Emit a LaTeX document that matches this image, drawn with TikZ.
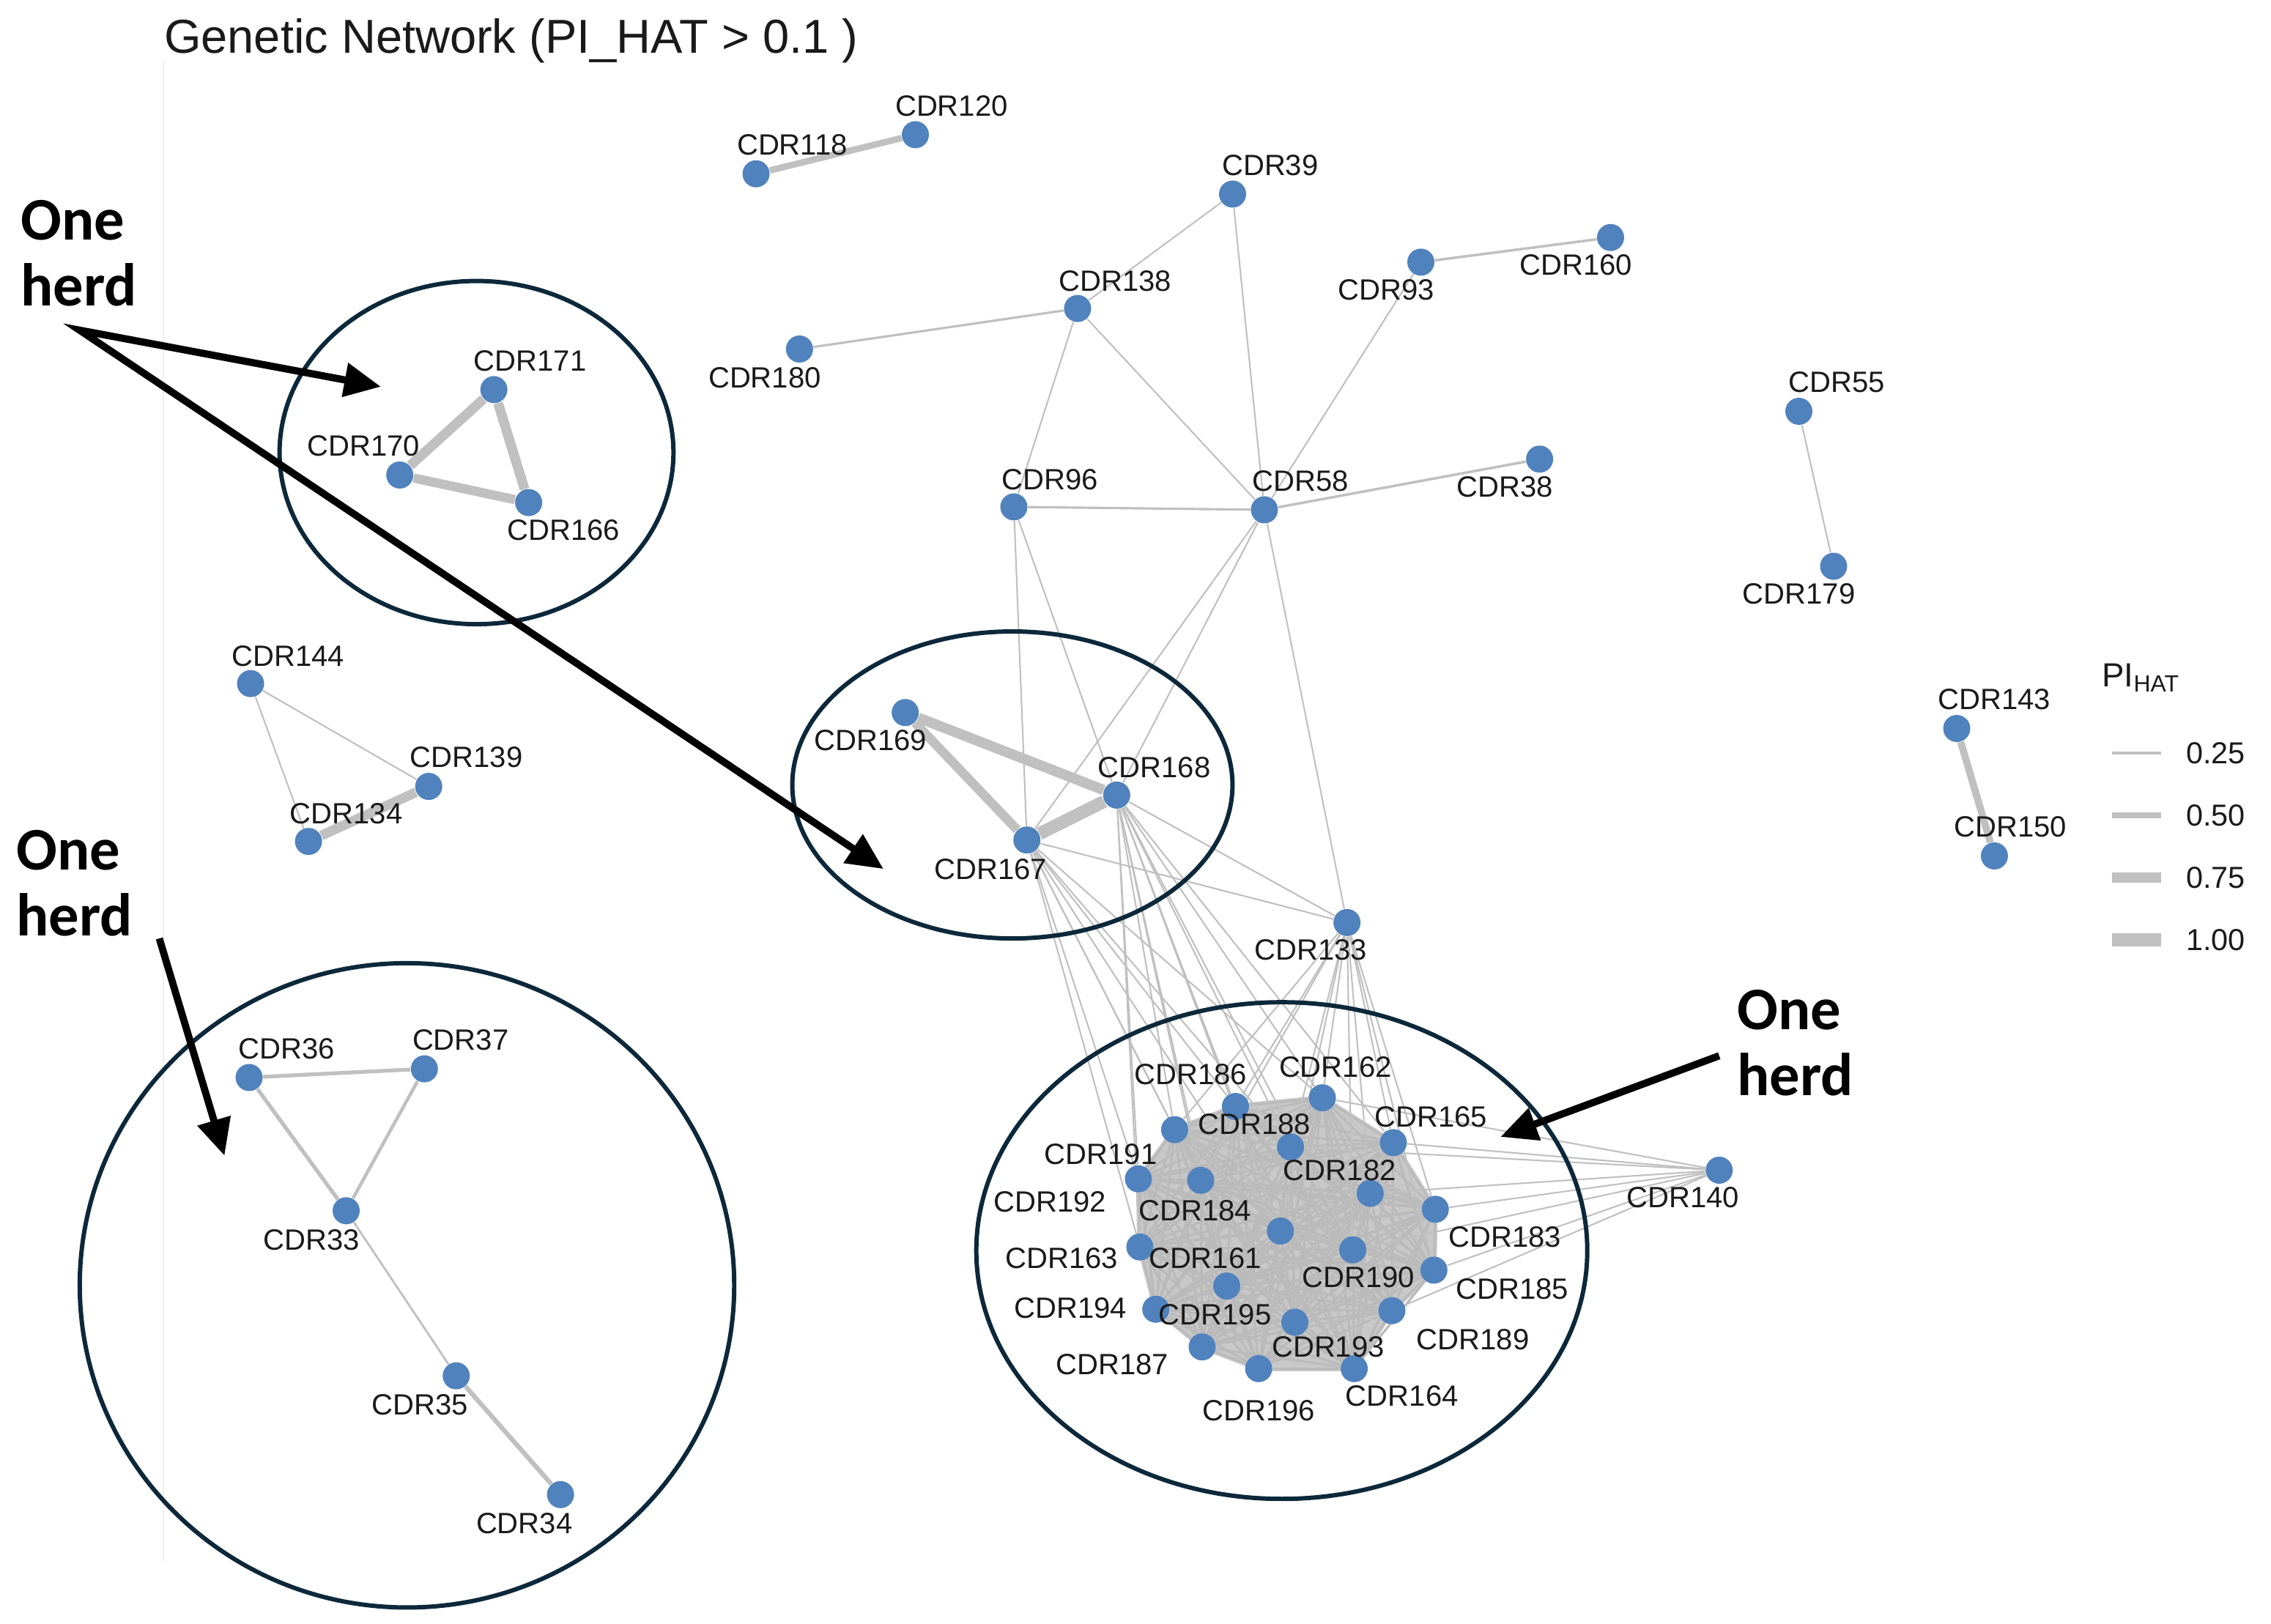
\documentclass[tikz,border=0pt]{standalone}
\usepackage{fontspec}
\setmainfont{Liberation Sans}
\newfontfamily\herdfont{Carlito}
\usetikzlibrary{arrows.meta,backgrounds}
\definecolor{nodeblue}{RGB}{80,130,189}
\definecolor{edgegray}{RGB}{192,192,192}
\definecolor{blobgray}{RGB}{200,200,200}
\definecolor{herdnavy}{RGB}{12,40,58}
\definecolor{txt}{RGB}{26,26,26}
\begin{document}
\begin{tikzpicture}[x=0.01977cm,y=-0.01977cm,
 dot/.style={circle,fill=nodeblue,inner sep=0pt,minimum size=0.37cm},
 lbl/.style={text=txt,inner sep=0pt,font=\fontsize{11.4}{13}\selectfont},
 ed/.style={draw=edgegray,line width=#1},
 ed/.default=0.6pt,
 herdring/.style={draw=herdnavy,line width=1.7pt},
 pointer/.style={draw=black,line width=2.8pt,-{Triangle[length=0.5cm,width=0.45cm]}},
 pointertwo/.style={draw=black,line width=2.8pt,{Triangle[length=0.5cm,width=0.45cm]}-{Triangle[length=0.5cm,width=0.45cm]}},
 herdtext/.style={font=\herdfont\bfseries\fontsize{23.5}{25.5}\selectfont,align=left,inner sep=0pt,anchor=west,text=black},
 legtext/.style={text=txt,inner sep=0pt,anchor=west,font=\fontsize{11.8}{13}\selectfont}
 ]
\useasboundingbox (0,0) rectangle (1568,1121);

% ---------- nodes ----------
\foreach \n/\x/\y in {118/522/120,120/632/93,39/851/134,93/981/181,160/1112/164,138/744/213,180/552/241,
  171/341/269,170/276/328,166/365/347,55/1242/284,179/1266/391,96/700/350,58/873/352,38/1063/317,
  144/173/472,139/296/543,134/213/581,143/1351/503,150/1377/591,169/625/492,168/771/549,167/709/580,
  133/930/637,140/1187/808,36/172/744,37/293/738,33/239/836,35/315/950,34/387/1032,
  162/913/758,186/853/764,188/811/780,182/891/792,165/962/789,191/786/814,184/829/815,192/946/824,
  183/991/835,161/884/850,190/934/863,163/787/861,185/990/877,195/847/888,194/798/904,189/961/905,
  193/894/913,187/830/930,196/869/945,164/935/945}
  {\node[dot] (n\n) at (\x,\y) {};}

% ---------- labels ----------
\foreach \n/\x/\y in {120/657/73,118/547/100,39/877/114,93/957/200,160/1088/183,138/770/194,180/528/261,
  171/366/249,170/251/308,166/389/366,55/1268/264,179/1242/410,96/725/331,58/898/332,38/1039/336,
  144/199/453,139/322/523,134/239/562,143/1377/483,150/1388/571,169/601/511,168/797/530,167/684/600,
  133/905/656,140/1162/827,36/198/724,37/318/718,33/215/856,35/290/970,34/362/1052,
  186/822/742,162/922/737,188/866/776,165/988/771,191/760/797,182/925/808,192/725/830,184/825/836,
  183/1039/854,163/733/869,161/832/869,190/938/882,185/1044/890,194/739/903,195/839/908,
  189/1017/925,193/917/930,187/768/942,196/869/974,164/968/964}
  {\node[lbl] (l\n) at (\x,\y) {CDR\n};}

% ---------- edges (behind the dots) ----------
\begin{scope}[on background layer]
  \coordinate (panelTop) at (113,42);
  \coordinate (panelBot) at (113,1078);
  \draw[draw=black!6,line width=0.6pt] (panelTop) -- (panelBot);
  % dense herd: hull of overlapping links, then every pair
  \fill[blobgray,draw=blobgray,line width=2pt,line join=round]
    (n162.center) -- (n165.center) -- (n183.center) -- (n185.center) -- (n189.center) -- (n164.center)
    -- (n196.center) -- (n187.center) -- (n194.center) -- (n163.center) -- (n191.center) -- (n188.center)
    -- (n186.center) -- cycle;
  \foreach \a [count=\i] in {n162,n186,n188,n182,n165,n191,n184,n192,n183,n161,n190,n163,n185,n195,n194,n189,n193,n187,n196,n164}{
    \foreach \b [count=\j] in {n162,n186,n188,n182,n165,n191,n184,n192,n183,n161,n190,n163,n185,n195,n194,n189,n193,n187,n196,n164}{
      \ifnum\j>\i \draw[draw=black!27,line width=0.9pt] (\a) -- (\b); \fi
    }
  }
  % links into the herd
  \foreach \b in {n186,n188,n191,n184,n163,n161,n182,n162}{\draw[ed] (n167) -- (\b);}
  \foreach \b in {n162,n186,n188,n182,n165,n191,n184,n161,n190,n163,n195}{\draw[ed] (n168) -- (\b);}
  \foreach \b in {n186,n188,n162,n182,n165,n192,n183,n185,n190,n161,n184}{\draw[ed] (n133) -- (\b);}
  \foreach \b in {n162,n165,n182,n192,n183,n190,n185,n189}{\draw[ed] (n140) -- (\b);}
  % thin links
  \draw[ed] (n167) -- (n133);
  \draw[ed] (n168) -- (n133);
  \draw[ed] (n58) -- (n133);
  \draw[ed] (n58) -- (n167);
  \draw[ed] (n58) -- (n168);
  \draw[ed] (n96) -- (n167);
  \draw[ed] (n96) -- (n168);
  \draw[ed] (n96) -- (n138);
  \draw[ed=0.9pt] (n96) -- (n58);
  \draw[ed] (n138) -- (n58);
  \draw[ed] (n138) -- (n39);
  \draw[ed=0.9pt] (n138) -- (n180);
  \draw[ed] (n39) -- (n58);
  \draw[ed] (n93) -- (n58);
  \draw[ed=1pt] (n93) -- (n160);
  \draw[ed=1pt] (n58) -- (n38);
  \draw[ed] (n55) -- (n179);
  \draw[ed] (n144) -- (n139);
  \draw[ed] (n144) -- (n134);
  \draw[ed=0.8pt] (n33) -- (n35);
  % weighted links
  \draw[ed=2.5pt] (n118) -- (n120);
  \draw[ed=3.8pt] (n171) -- (n170);
  \draw[ed=3.8pt] (n171) -- (n166);
  \draw[ed=3.6pt] (n170) -- (n166);
  \draw[ed=3.8pt] (n139) -- (n134);
  \draw[ed=2.8pt] (n143) -- (n150);
  \draw[ed=4pt] (n169) -- (n168);
  \draw[ed=3.6pt] (n169) -- (n167);
  \draw[ed=5pt] (n167) -- (n168);
  \draw[ed=1.5pt] (n36) -- (n37);
  \draw[ed=1.5pt] (n36) -- (n33);
  \draw[ed=1.3pt] (n37) -- (n33);
  \draw[ed=1.8pt] (n35) -- (n34);
\end{scope}

% ---------- herd rings ----------
\draw[herdring] (329,312.5) ellipse [x radius=2.689cm, y radius=2.343cm];
\draw[herdring] (699,542) ellipse [x radius=3.005cm, y radius=2.096cm];
\draw[herdring] (281,887.5) ellipse [x radius=4.468cm, y radius=4.399cm];
\draw[herdring] (885,863.5) ellipse [x radius=4.171cm, y radius=3.391cm];

% ---------- annotations ----------
\node[herdtext] (h1) at (14,175) {One\\herd};
\node[herdtext] (h2) at (11,610) {One\\herd};
\node[herdtext] (h3) at (1199,720) {One\\herd};
\coordinate (v1) at (55,228);
\coordinate (t1) at (263,267);
\coordinate (t2) at (610,600);
\coordinate (s3) at (110,648);
\coordinate (t3) at (155,798);
\coordinate (s4) at (1187,729);
\coordinate (t4) at (1036,785);
\draw[pointertwo] (t1) -- (v1) -- (t2);
\draw[pointer] (s3) -- (t3);
\draw[pointer] (s4) -- (t4);

% ---------- title ----------
\node[anchor=west,inner sep=0pt,text=txt,font=\fontsize{18.5}{21}\selectfont] (title) at (113,28) {Genetic Network (PI\_HAT > 0.1 )};

% ---------- legend ----------
\node[legtext,font=\fontsize{13}{15}\selectfont] (legtitle) at (1451,468) {PI\textsubscript{HAT}};
\foreach \v/\w/\y [count=\k] in {0.25/1.3pt/520,0.50/2.5pt/563,0.75/3.8pt/606,1.00/5pt/649}{
  \coordinate (ka\k) at (1458,\y);
  \coordinate (kb\k) at (1492,\y);
  \draw[ed=\w] (ka\k) -- (kb\k);
  \node[legtext] (kl\k) at (1509,\y) {\v};
}
\end{tikzpicture}
\end{document}
